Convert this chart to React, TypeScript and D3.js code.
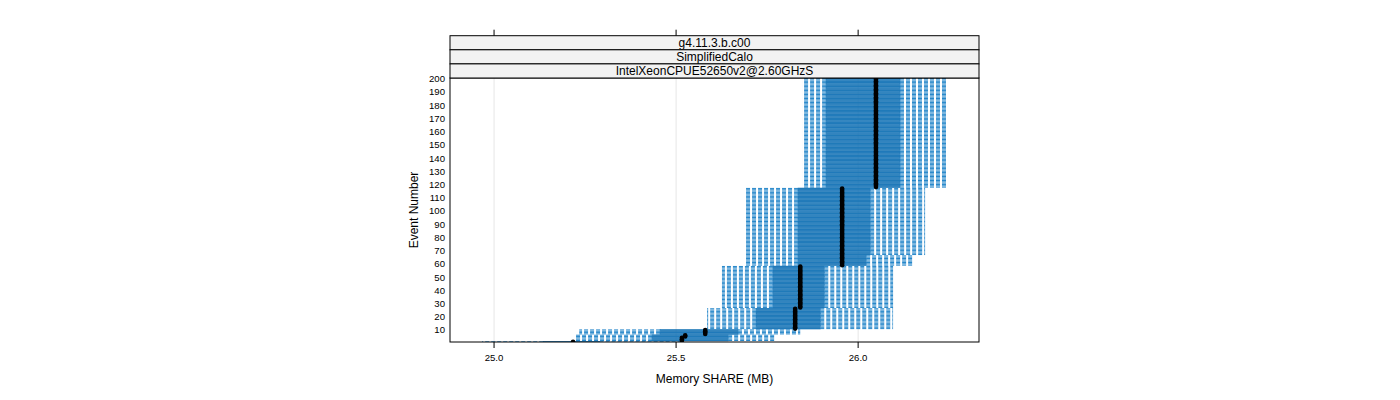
import * as d3 from 'd3';

// runs of consecutive events sharing the same box statistics (Memory SHARE, MB)
const blockStart = [1, 2, 5, 7, 11, 27, 59, 67, 118];
const blockEnd = [1, 4, 6, 10, 26, 58, 66, 117, 200];
const lowerWhisker = [24.967, 25.223, 25.223, 25.234, 25.585, 25.626, 25.687, 25.687, 25.846];
const lowerQuartile = [25.135, 25.434, 25.434, 25.456, 25.72, 25.766, 25.835, 25.835, 25.912];
const medianShare = [25.217, 25.516, 25.525, 25.58, 25.827, 25.841, 25.956, 25.956, 26.049];
const upperQuartile = [25.29, 25.643, 25.643, 25.67, 25.896, 25.907, 26.022, 26.033, 26.115];
const upperWhisker = [25.511, 25.772, 25.772, 25.841, 26.096, 26.096, 26.151, 26.184, 26.245];

const xTicks = [25.0, 25.5, 26.0];
const yTicks = d3.range(10, 201, 10);
const stripLabels = ['g4.11.3.b.c00', 'SimplifiedCalo', 'IntelXeonCPUE52650v2@2.60GHzS'];

const FONT = '"Liberation Sans", Arial, Helvetica, sans-serif';
const BOX_FILL = '#0462a5';
const BOX_EDGE = '#1b78ba';
const WHISKER = '#2285c9';

type Row = { event: number; lw: number; q1: number; med: number; q3: number; uw: number };

const rows: Row[] = [];
blockStart.forEach((s, i) => {
  for (let e = s; e <= blockEnd[i]; e++) {
    rows.push({
      event: e,
      lw: lowerWhisker[i],
      q1: lowerQuartile[i],
      med: medianShare[i],
      q3: upperQuartile[i],
      uw: upperWhisker[i],
    });
  }
});

export default function App() {
  const panel = { left: 450, right: 979, top: 78, bottom: 342 };
  const stripH = 14.1;

  const x = d3.scaleLinear().domain([24.879, 26.332]).range([panel.left, panel.right]);
  const y = d3.scaleLinear().domain([0.5, 200.5]).range([panel.bottom + 0.5, panel.top]);
  const step = Math.abs(y(1) - y(2));
  const boxH = step * 0.6;

  const stripTop = panel.top - stripH * stripLabels.length;

  return (
    <svg
      width={1400}
      height={400}
      style={{ position: 'absolute', left: 0, top: 0, background: '#fff' }}
      fontFamily={FONT}
    >
      <defs>
        <clipPath id="panel-clip">
          <rect x={panel.left} y={panel.top} width={panel.right - panel.left} height={panel.bottom - panel.top} />
        </clipPath>
      </defs>

      {/* grid */}
      {xTicks.map((t) => (
        <line key={'g' + t} x1={x(t)} x2={x(t)} y1={panel.top} y2={panel.bottom} stroke="#e6e6e6" strokeWidth={1} />
      ))}

      <g clipPath="url(#panel-clip)">
        {/* whiskers, drawn outward from the box */}
        {rows.map((r) => (
          <g key={'w' + r.event} stroke={WHISKER} strokeWidth={1} strokeDasharray="4 2" fill="none">
            <line x1={x(r.q1)} x2={x(r.lw)} y1={y(r.event)} y2={y(r.event)} />
            <line x1={x(r.q3)} x2={x(r.uw)} y1={y(r.event)} y2={y(r.event)} />
          </g>
        ))}
        {/* boxes */}
        {rows.map((r) => (
          <rect
            key={'b' + r.event}
            x={x(r.q1)}
            y={y(r.event) - boxH / 2}
            width={x(r.q3) - x(r.q1)}
            height={boxH}
            fill={BOX_FILL}
            stroke={BOX_EDGE}
            strokeWidth={0.6}
          />
        ))}
        {/* medians */}
        {rows.map((r) => (
          <circle key={'m' + r.event} cx={x(r.med)} cy={y(r.event)} r={2.3} fill="#000" />
        ))}
      </g>

      {/* panel border */}
      <rect
        x={panel.left}
        y={panel.top}
        width={panel.right - panel.left}
        height={panel.bottom - panel.top}
        fill="none"
        stroke="#000"
        strokeWidth={1}
      />

      {/* strips */}
      {stripLabels.map((label, i) => {
        const top = stripTop + i * stripH;
        return (
          <g key={label}>
            <rect
              x={panel.left}
              y={top}
              width={panel.right - panel.left}
              height={stripH}
              fill="#f2f2f2"
              stroke="#000"
              strokeWidth={1}
            />
            <text
              x={(panel.left + panel.right) / 2}
              y={top + stripH / 2}
              textAnchor="middle"
              dominantBaseline="central"
              fontSize={12}
              fill="#000"
            >
              {label}
            </text>
          </g>
        );
      })}

      {/* top ticks */}
      {xTicks.map((t) => (
        <line key={'tt' + t} x1={x(t)} x2={x(t)} y1={stripTop} y2={stripTop - 6} stroke="#000" />
      ))}

      {/* bottom axis */}
      {xTicks.map((t) => (
        <g key={'bt' + t}>
          <line x1={x(t)} x2={x(t)} y1={panel.bottom} y2={panel.bottom + 6} stroke="#000" />
          <text x={x(t)} y={panel.bottom + 19} textAnchor="middle" fontSize={9.6} fill="#000">
            {d3.format('.1f')(t)}
          </text>
        </g>
      ))}

      {/* left axis labels */}
      {yTicks.map((t) => (
        <text
          key={'yt' + t}
          x={panel.left - 5}
          y={y(t)}
          textAnchor="end"
          dominantBaseline="central"
          fontSize={9.6}
          fill="#000"
        >
          {t}
        </text>
      ))}

      <text
        x={(panel.left + panel.right) / 2}
        y={383}
        textAnchor="middle"
        fontSize={12}
        fill="#000"
      >
        Memory SHARE (MB)
      </text>
      <text
        transform={`translate(418,${(panel.top + panel.bottom) / 2}) rotate(-90)`}
        textAnchor="middle"
        fontSize={12}
        fill="#000"
      >
        Event Number
      </text>
    </svg>
  );
}
